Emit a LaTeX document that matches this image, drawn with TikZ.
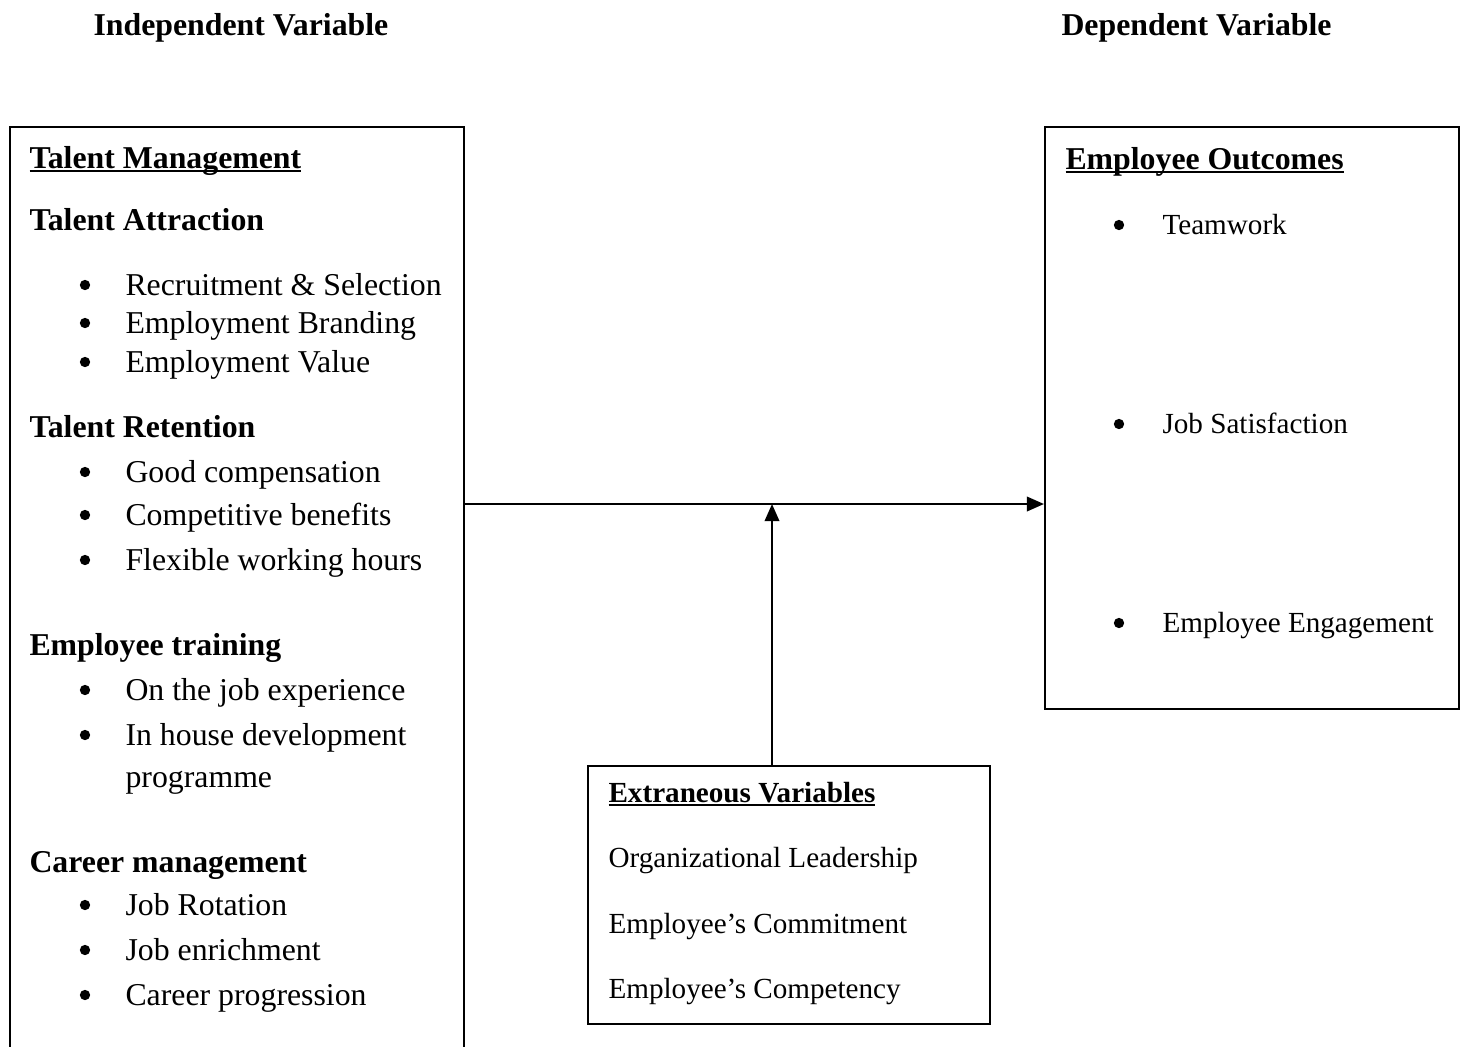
\documentclass[tikz,border=0pt]{standalone}
\usepackage{fontspec}
\setmainfont{Liberation Serif}
\usetikzlibrary{arrows.meta}

\newcommand{\pxu}{0.3774pt}
\newcommand{\hdul}[1]{\setbox0\hbox{#1}\rlap{\rule[-1.5pt]{\wd0}{0.75pt}}\box0}

\tikzset{
  box/.style={draw, line width=0.85pt, anchor=north west, inner sep=0pt},
  head/.style={font=\bfseries, anchor=base west, inner sep=0pt},
  shead/.style={font=\fontsize{11pt}{13pt}\selectfont\bfseries, anchor=base west, inner sep=0pt},
  entry/.style={anchor=base west, inner sep=0pt},
  sentry/.style={font=\fontsize{11pt}{13pt}\selectfont, anchor=base west, inner sep=0pt},
  dot/.style={circle, fill, inner sep=0pt, minimum size=3.9pt},
  arr/.style={-{Triangle[length=6.5pt,width=5.5pt]}, line width=0.85pt}
}

\begin{document}
\fontsize{12pt}{14pt}\selectfont
\begin{tikzpicture}[x=\pxu, y=-\pxu]
\clip (0,0) rectangle (1466,1047);

\node[head] (iv) at (93,35) {Independent Variable};
\node[head] (dv) at (1061,35) {Dependent Variable};

% the three boxes
\node[box, minimum width=454*\pxu, minimum height=960*\pxu] (tm) at (9,126) {};
\node[box, minimum width=414*\pxu, minimum height=582*\pxu] (eo) at (1044,126) {};
\node[box, minimum width=402*\pxu, minimum height=258*\pxu] (ev) at (587,765) {};

% talent management
\node[head] (tmt) at (29,168) {\hdul{Talent Management}};
\node[head] (ta) at (29,230) {Talent Attraction};
\node[dot] (ta1d) at (85,285) {};
\node[entry] (ta1) at (125,295) {Recruitment \& Selection};
\node[dot] (ta2d) at (85,323) {};
\node[entry] (ta2) at (125,333) {Employment Branding};
\node[dot] (ta3d) at (85,362) {};
\node[entry] (ta3) at (125,372) {Employment Value};

\node[head] (tr) at (29,437) {Talent Retention};
\node[dot] (tr1d) at (85,472) {};
\node[entry] (tr1) at (125,482) {Good compensation};
\node[dot] (tr2d) at (85,515) {};
\node[entry] (tr2) at (125,525) {Competitive benefits};
\node[dot] (tr3d) at (85,560) {};
\node[entry] (tr3) at (125,570) {Flexible working hours};

\node[head] (et) at (29,655) {Employee training};
\node[dot] (et1d) at (85,690) {};
\node[entry] (et1) at (125,700) {On the job experience};
\node[dot] (et2d) at (85,735) {};
\node[entry] (et2) at (125,745) {In house development};
\node[entry] (et2b) at (125,787) {programme};

\node[head] (cm) at (29,872) {Career management};
\node[dot] (cm1d) at (85,905) {};
\node[entry] (cm1) at (125,915) {Job Rotation};
\node[dot] (cm2d) at (85,950) {};
\node[entry] (cm2) at (125,960) {Job enrichment};
\node[dot] (cm3d) at (85,995) {};
\node[entry] (cm3) at (125,1005) {Career progression};

% employee outcomes
\node[head] (eot) at (1065,169) {\hdul{Employee Outcomes}};
\node[dot] (eo1d) at (1119,225) {};
\node[sentry] (eo1) at (1162,234) {Teamwork};
\node[dot] (eo2d) at (1119,424) {};
\node[sentry] (eo2) at (1162,433) {Job Satisfaction};
\node[dot] (eo3d) at (1119,623) {};
\node[sentry] (eo3) at (1162,632) {Employee Engagement};

% extraneous variables
\node[shead] (evt) at (608,802) {\hdul{Extraneous Variables}};
\node[sentry] (ev1) at (608,867) {Organizational Leadership};
\node[sentry] (ev2) at (608,933) {Employee's Commitment};
\node[sentry] (ev3) at (608,998) {Employee's Competency};

% arrows
\coordinate (join) at (772,504);
\draw[arr] (tm.east |- join) -- (eo.west |- join);
\draw[arr] (join |- ev.north) -- (join);
\end{tikzpicture}
\end{document}
